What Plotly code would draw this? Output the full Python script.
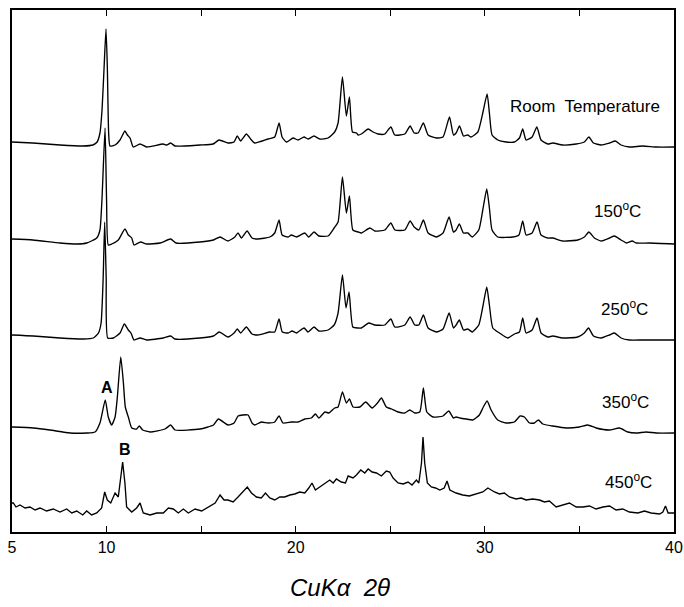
import plotly.graph_objects as go

# 2-theta (deg) and relative intensity, one list per pattern
room_temp = [(5.0,4),(6.1,3),(7.54,1),(8.75,0),(9.28,1),(9.5,4),(9.65,13),(9.76,36),(9.87,79),(9.97,117),(10.04,79),(10.11,13),(10.18,0),(10.45,1),(10.71,6),(10.97,15),(11.1,11),(11.24,8),(11.41,-1),(11.77,2),(12.12,-1),(12.99,2),(13.18,1),(13.39,3),(13.62,0),(14.94,1),(15.63,2),(15.95,6),(16.42,3),(16.74,4),(16.91,10),(17.09,5),(17.39,12),(17.66,6),(17.83,3),(18.54,7),(18.89,9),(19.12,23),(19.28,9),(19.51,4),(19.86,8),(20.12,6),(20.44,9),(20.65,7),(20.97,10),(21.27,7),(21.71,8),(22.06,14),(22.24,23),(22.47,69),(22.68,30),(22.84,49),(23.0,14),(23.21,13),(23.3,11),(23.47,12),(23.83,17),(24.09,14),(24.35,12),(24.71,12),(25.03,19),(25.24,11),(25.77,12),(26.05,20),(26.26,13),(26.47,13),(26.75,23),(27.0,11),(27.44,8),(27.79,9),(28.13,29),(28.34,11),(28.48,13),(28.66,20),(28.87,10),(29.1,11),(29.27,9),(29.63,14),(29.89,33),(30.12,52),(30.24,33),(30.38,11),(30.68,6),(31.12,4),(31.56,4),(31.83,8),(32.0,17),(32.18,6),(32.5,9),(32.75,19),(32.97,6),(33.33,2),(33.59,3),(34.12,1),(34.83,2),(35.26,4),(35.5,9),(35.74,3),(36.15,1),(36.59,3),(36.9,5),(37.2,1),(37.64,-1),(38.35,0),(39.06,-1),(40.0,-1)]

t150 = [(5.0,4),(6.1,3),(7.54,0),(8.42,-1),(8.95,0),(9.48,5),(9.65,13),(9.76,45),(9.92,115),(10.0,43),(10.09,-2),(10.27,-1),(10.62,3),(10.97,14),(11.15,8),(11.33,5),(11.45,-2),(11.8,1),(12.12,-1),(12.83,0),(13.39,4),(13.67,0),(14.94,1),(15.65,3),(16.0,6),(16.42,2),(16.78,6),(16.95,10),(17.13,5),(17.43,12),(17.69,5),(18.0,4),(18.63,6),(18.89,10),(19.12,23),(19.28,8),(19.6,6),(19.77,8),(20.04,6),(20.48,10),(20.69,6),(20.97,11),(21.22,7),(21.71,7),(22.03,15),(22.24,21),(22.47,66),(22.68,30),(22.84,47),(23.02,13),(23.3,11),(23.47,10),(23.92,15),(24.18,12),(24.71,13),(25.03,20),(25.24,13),(25.77,13),(26.05,22),(26.26,16),(26.51,13),(26.75,23),(27.0,10),(27.44,6),(27.79,10),(28.11,26),(28.34,11),(28.48,13),(28.65,19),(28.87,10),(29.1,10),(29.33,6),(29.68,13),(29.89,33),(30.1,54),(30.24,35),(30.38,13),(30.68,6),(31.48,6),(31.8,8),(32.0,22),(32.18,8),(32.5,10),(32.76,21),(32.97,8),(33.33,5),(33.59,5),(34.12,2),(34.91,3),(35.26,6),(35.5,11),(35.79,5),(36.15,2),(36.59,5),(36.85,7),(37.2,3),(37.5,0),(37.79,2),(38.0,0),(38.7,0),(40.0,-1)]

t250 = [(5.0,3),(6.13,2),(7.54,0),(8.77,-1),(9.3,0),(9.57,5),(9.71,15),(9.82,60),(9.9,116),(9.98,60),(10.06,0),(10.36,0),(10.71,5),(10.94,14),(11.15,8),(11.29,5),(11.45,-2),(11.77,0),(12.12,-2),(13.0,0),(13.39,2),(13.62,-1),(14.94,0),(15.65,2),(15.96,6),(16.42,1),(16.74,5),(16.91,9),(17.09,5),(17.39,11),(17.69,4),(18.0,3),(18.63,6),(18.89,6),(19.12,19),(19.29,6),(19.6,5),(19.81,7),(20.04,5),(20.44,10),(20.65,6),(20.97,11),(21.22,7),(21.71,8),(22.03,13),(22.24,25),(22.47,63),(22.66,30),(22.82,46),(23.02,11),(23.3,10),(23.47,10),(23.86,15),(24.18,13),(24.71,13),(25.03,19),(25.24,11),(25.77,13),(26.05,21),(26.29,13),(26.51,13),(26.75,23),(27.0,10),(27.44,6),(27.79,9),(28.11,25),(28.34,10),(28.48,13),(28.65,18),(28.87,8),(29.1,9),(29.33,6),(29.68,13),(29.89,31),(30.1,51),(30.24,33),(30.42,10),(30.77,5),(31.21,0),(31.56,4),(31.83,6),(32.0,20),(32.18,5),(32.5,8),(32.76,20),(32.97,5),(33.33,1),(33.59,2),(34.12,0),(34.91,1),(35.26,5),(35.48,10),(35.74,2),(36.15,0),(36.59,3),(36.85,5),(37.2,0),(37.64,-2),(38.35,-2),(39.06,-2),(40.0,-2)]

t350 = [(5.0,3),(6.13,2),(7.0,0),(8.07,-3),(8.95,-3),(9.39,-2),(9.65,7),(9.93,30),(10.09,13),(10.27,5),(10.45,13),(10.57,33),(10.75,73),(10.89,47),(10.99,23),(11.15,13),(11.33,2),(11.59,1),(11.73,4),(11.91,0),(12.3,-2),(13.09,1),(13.39,5),(13.62,0),(14.94,1),(15.65,5),(15.91,11),(16.42,5),(16.74,7),(16.95,14),(17.2,15),(17.48,15),(17.69,7),(17.83,5),(18.18,8),(18.54,7),(18.89,8),(19.12,14),(19.33,7),(19.77,8),(20.12,8),(20.48,11),(20.83,12),(21.04,16),(21.22,12),(21.54,18),(21.76,17),(22.06,22),(22.24,23),(22.47,38),(22.68,27),(22.84,31),(23.03,23),(23.39,23),(23.7,28),(24.04,22),(24.32,27),(24.53,32),(24.79,23),(25.06,21),(25.41,18),(25.77,17),(26.03,20),(26.29,17),(26.56,18),(26.75,42),(26.93,18),(27.26,13),(27.79,14),(28.09,19),(28.34,12),(28.48,13),(28.69,12),(29.01,11),(29.36,10),(29.71,15),(29.92,23),(30.12,29),(30.33,20),(30.68,10),(31.12,7),(31.56,8),(31.86,14),(32.09,13),(32.36,7),(32.62,7),(32.83,10),(33.06,6),(33.59,4),(34.3,2),(35.0,3),(35.44,5),(35.88,2),(36.59,0),(37.12,2),(37.56,-2),(38.0,-3),(38.53,-2),(39.06,-3),(40.0,-3)]

t450 = [(5.0,7),(5.07,7),(5.21,3),(5.42,5),(5.69,2),(5.95,3),(6.22,0),(6.48,2),(6.83,-1),(7.18,1),(7.54,-2),(7.89,1),(8.16,-3),(8.42,-1),(8.74,-5),(8.95,-1),(9.21,-5),(9.48,-3),(9.74,2),(9.9,18),(10.04,10),(10.22,7),(10.45,17),(10.62,13),(10.85,48),(10.97,27),(11.06,3),(11.33,-2),(11.59,2),(11.77,7),(11.94,-3),(12.3,-5),(12.65,-3),(13.0,-3),(13.27,2),(13.53,1),(13.79,-3),(14.06,1),(14.32,-3),(14.68,1),(15.03,-1),(15.38,3),(15.74,7),(16.0,15),(16.21,10),(16.42,10),(16.69,8),(16.95,13),(17.22,18),(17.44,23),(17.66,17),(17.92,13),(18.18,12),(18.4,17),(18.63,12),(18.89,10),(19.16,13),(19.42,13),(19.69,15),(19.95,16),(20.21,18),(20.48,17),(20.69,22),(20.86,27),(21.04,20),(21.27,23),(21.54,27),(21.8,30),(21.98,27),(22.15,31),(22.41,28),(22.63,27),(22.77,34),(23.03,32),(23.21,35),(23.44,40),(23.65,37),(23.83,41),(24.04,38),(24.27,37),(24.53,34),(24.79,39),(24.97,38),(25.15,32),(25.41,27),(25.68,26),(25.94,28),(26.15,25),(26.38,30),(26.51,27),(26.65,47),(26.73,73),(26.82,47),(26.96,27),(27.17,23),(27.39,22),(27.62,20),(27.85,22),(28.0,29),(28.15,20),(28.48,17),(28.83,15),(29.18,14),(29.54,16),(29.89,18),(30.16,22),(30.33,20),(30.51,18),(30.77,16),(31.03,17),(31.3,13),(31.65,11),(31.92,12),(32.18,10),(32.53,11),(32.89,10),(33.15,8),(33.41,9),(33.77,3),(34.12,5),(34.47,7),(34.83,3),(35.18,3),(35.53,4),(35.88,1),(36.24,3),(36.59,4),(36.94,0),(37.29,1),(37.64,-2),(38.09,-3),(38.44,-1),(38.79,-3),(39.24,-4),(39.41,-2),(39.55,4),(39.69,-3),(40.0,-3)]

patterns = [room_temp, t150, t250, t350, t450]
pattern_labels = ["Room  Temperature", "150<sup>o</sup>C", "250<sup>o</sup>C", "350<sup>o</sup>C", "450<sup>o</sup>C"]
offsets = [386, 289, 194, 102, 22]          # vertical stacking offsets
label_pos = [(35.3, 426), (37.02, 322), (37.36, 224), (37.42, 131), (37.58, 51)]
peak_marks = [("A", 10.02, 145), ("B", 10.98, 83)]

tick_vals = [5, 10, 15, 20, 25, 30, 35, 40]
tick_text = ["5", "10", "", "20", "", "30", "", "40"]

FONT = "Liberation Sans, Arial, sans-serif"

fig = go.Figure()
for i, pat in enumerate(patterns):
    xs = [p[0] for p in pat]
    ys = [p[1] + offsets[i] for p in pat]
    fig.add_trace(go.Scatter(
        x=xs, y=ys, mode="lines",
        line=dict(color="black", width=1.35,
                  shape="linear" if i == 4 else "spline",
                  smoothing=0.5 if i != 4 else None),
        showlegend=False, hoverinfo="skip"))

for (lx, ly), txt in zip(label_pos, pattern_labels):
    fig.add_annotation(x=lx, y=ly, text=txt, showarrow=False,
                       font=dict(family=FONT, size=17, color="black"),
                       xanchor="center", yanchor="middle")
for txt, lx, ly in peak_marks:
    fig.add_annotation(x=lx, y=ly, text=f"<b>{txt}</b>", showarrow=False,
                       font=dict(family=FONT, size=16, color="black"),
                       xanchor="center", yanchor="middle")

fig.add_annotation(xref="paper", yref="paper", x=0.495, y=-0.107,
                   text="<i>CuK\u03b1  2\u03b8</i>", showarrow=False,
                   font=dict(family=FONT, size=24, color="black"),
                   xanchor="center", yanchor="middle")

fig.update_xaxes(range=[5, 40], tickmode="array", tickvals=tick_vals, ticktext=tick_text,
                 ticks="inside", ticklen=6, tickwidth=1.2, tickcolor="black",
                 showline=True, linecolor="black", linewidth=1.6, mirror="ticks",
                 showgrid=False, zeroline=False, automargin=False,
                 tickfont=dict(family=FONT, size=16, color="black"))
fig.update_yaxes(range=[0, 522], showticklabels=False, ticks="",
                 showline=True, linecolor="black", linewidth=1.6, mirror=True,
                 showgrid=False, zeroline=False, automargin=False)

fig.update_layout(width=684, height=607, margin=dict(l=12, r=10, t=10, b=75, autoexpand=False),
                  plot_bgcolor="white", paper_bgcolor="white")

fig.write_html("out.html", config={"displayModeBar": False, "staticPlot": True},
               post_script="document.body.style.margin='0';document.body.style.overflow='hidden';")
